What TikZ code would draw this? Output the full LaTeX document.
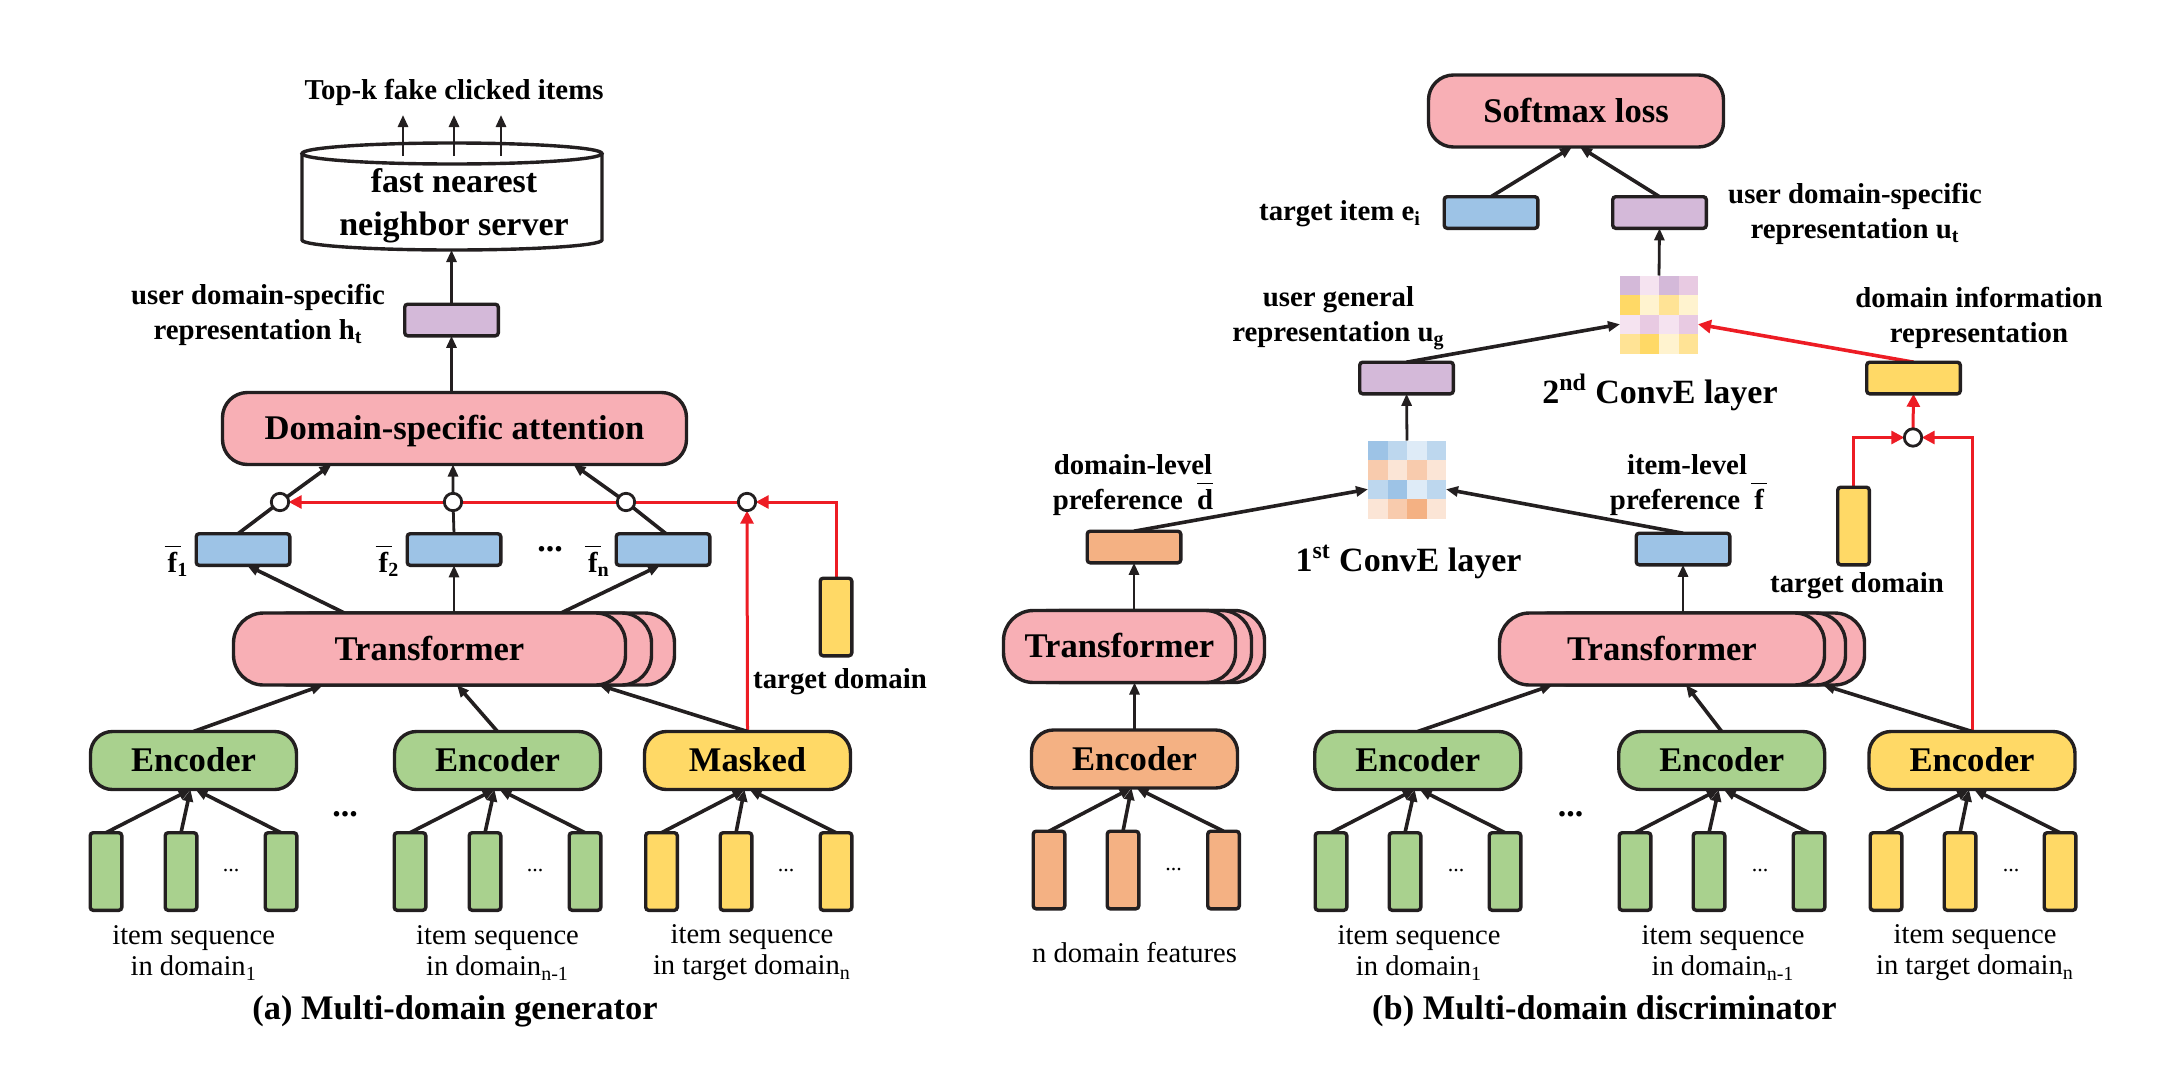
\documentclass[tikz,border=0pt]{standalone}
\usepackage{fontspec}
\setmainfont{Liberation Serif}
\usetikzlibrary{arrows.meta,calc,backgrounds}

\definecolor{pinkbox}{HTML}{F8AFB5}
\definecolor{greenbox}{HTML}{A9D18E}
\definecolor{yellowbox}{HTML}{FFD966}
\definecolor{orangebox}{HTML}{F4B183}
\definecolor{bluebox}{HTML}{9DC3E6}
\definecolor{purplebox}{HTML}{D4B9D9}
\definecolor{linered}{HTML}{ED1C24}
\definecolor{lineblack}{HTML}{231F20}
\definecolor{bluemid}{HTML}{BDD7EE}
\definecolor{bluepale}{HTML}{DEEBF7}
\definecolor{orangemid}{HTML}{F8CBAD}
\definecolor{orangepale}{HTML}{FBE5D6}
\definecolor{purplemid}{HTML}{E8CAE2}
\definecolor{purplepale}{HTML}{F5E3F0}
\definecolor{yellowmid}{HTML}{FFE395}
\definecolor{yellowpale}{HTML}{FFF3CF}

\newcommand{\barchar}[1]{\ooalign{#1\cr\hidewidth\raisebox{12.5pt}{\rule{8pt}{0.9pt}}\hidewidth\cr}}

\begin{document}
\begin{tikzpicture}[x=0.5pt,y=-0.5pt]
    \tikzstyle{every node}=[inner sep=0pt,outer sep=0pt]
    \tikzstyle{outlined}=[draw=lineblack,line width=1.7pt]
    \tikzstyle{barbox}=[outlined,rounded corners=1.5pt,minimum width=15.8pt,minimum height=38.8pt]
    \tikzstyle{vecbox}=[outlined,rounded corners=1.5pt,minimum width=46.8pt,minimum height=15.8pt]
    \tikzstyle{encbox}=[outlined,rounded corners=11pt,minimum width=103pt,minimum height=29pt,
        text height=11.2pt,text depth=0pt,font=\fontsize{17.3}{20}\selectfont\bfseries]
    \tikzstyle{pillbox}=[outlined,fill=pinkbox,rounded corners=15pt,minimum height=36pt,
        text height=11.2pt,text depth=0pt,font=\fontsize{17.3}{20}\selectfont\bfseries]
    \tikzstyle{mixdot}=[outlined,line width=1.4pt,fill=white,circle,minimum size=8.7pt]
    \tikzstyle{cellbox}=[minimum size=9.75pt]
    \tikzstyle{arrowline}=[draw=lineblack,line width=1.4pt,-{Triangle[length=6pt,width=5pt]}]
    \tikzstyle{thickarrow}=[arrowline,line width=1.8pt]
    \tikzstyle{redline}=[draw=linered,line width=1.5pt,-{Triangle[length=6.5pt,width=6.5pt]}]
    \tikzstyle{boldlabel}=[align=center,font=\fontsize{14.4}{17.5}\selectfont\bfseries]
    \tikzstyle{bigdots}=[font=\fontsize{17}{20}\selectfont\bfseries]
    \tikzstyle{seqlabel}=[align=center,font=\fontsize{14.3}{15.5}\selectfont]
    \tikzstyle{smalldots}=[font=\fontsize{11}{13}\selectfont]
    \tikzstyle{captionlabel}=[font=\fontsize{17.2}{20}\selectfont\bfseries]

    \useasboundingbox (0,0) rectangle (2166,1076);

    % (a) generator
    \node (topk) [boldlabel] at (454,92) {Top-k fake clicked items};
    \node (server) [minimum width=150pt,minimum height=53.5pt] at (452,196.5) {};
    \draw[outlined,fill=white] (server.west |- 0,154) -- (server.west |- 0,240)
        arc[start angle=180,end angle=360,x radius=75pt,y radius=5pt] -- (server.east |- 0,154);
    \draw[outlined,fill=white] (server.north |- 0,153.5) ellipse[x radius=75pt,y radius=5.25pt];
    \node (serverlabel) [align=center,font=\fontsize{17}{21.5}\selectfont\bfseries] at (454,206) {fast nearest\\neighbor server};
    \node (hvec) [vecbox,fill=purplebox] at (451.5,320) {};
    \node (hlabel) [boldlabel] at (258,315) {user domain-specific\\representation h\textsubscript{t}};
    \node (attn) [pillbox,minimum width=232pt,rounded corners=12.5pt] at (454.5,428.5) {Domain-specific attention};

    \node (mixA1) [mixdot] at (280,502) {};
    \node (mixA2) [mixdot] at (453,502) {};
    \node (mixA3) [mixdot] at (626,502) {};
    \node (mixA4) [mixdot] at (747,502) {};
    \node (fvecA1) [vecbox,fill=bluebox] at (243,549.5) {};
    \node (fvecA2) [vecbox,fill=bluebox] at (454,549.5) {};
    \node (fvecA3) [vecbox,fill=bluebox] at (663,549.5) {};
    \node (flabA1) [boldlabel] at (178,564.5) {\barchar{f}\textsubscript{1}};
    \node (flabA2) [boldlabel] at (389,564.5) {\barchar{f}\textsubscript{2}};
    \node (flabA3) [boldlabel] at (599,564.5) {\barchar{f}\textsubscript{n}};
    \node (dotsA0) [bigdots] at (550,549) {...};
    \node (tdomA) [barbox,fill=yellowbox] at (836,617) {};
    \node (tlabA) [boldlabel] at (840,682) {target domain};

    \node (transA3) [pillbox,minimum width=196pt] at (478.5,649) {};
    \node (transA2) [pillbox,minimum width=196pt] at (455.5,649) {};
    \node (transA1) [pillbox,minimum width=196pt] at (429.5,649) {Transformer};

    \node (encA1) [encbox,fill=greenbox] at (193.5,760.5) {Encoder};
    \node (encA2) [encbox,fill=greenbox] at (497.5,760.5) {Encoder};
    \node (encA3) [encbox,fill=yellowbox] at (747.5,760.5) {Masked};
    \node (dotsA1) [bigdots] at (345,814) {...};

    \foreach \name/\xpos/\hue in {A11/106/greenbox,A12/181/greenbox,A13/281/greenbox,
        A21/410/greenbox,A22/485/greenbox,A23/585/greenbox,
        A31/661.5/yellowbox,A32/736/yellowbox,A33/836/yellowbox}
        \node (bar\name) [barbox,fill=\hue] at (\xpos,871.5) {};
    \node (dotsA2) [smalldots] at (231,870) {...};
    \node (dotsA3) [smalldots] at (535,870) {...};
    \node (dotsA4) [smalldots] at (786,870) {...};

    \node (seqA1) [seqlabel] at (193.7,953) {item sequence\\in domain\textsubscript{1}};
    \node (seqA2) [seqlabel] at (497.5,953) {item sequence\\in domain\textsubscript{n-1}};
    \node (seqA3) [seqlabel] at (752,953) {item sequence\\in target domain\textsubscript{n}};
    \node (capA) [captionlabel] at (455,1011) {(a) Multi-domain generator};

    % (b) discriminator
    \node (softmax) [pillbox,minimum width=147.5pt,rounded corners=12.5pt] at (1576,111) {Softmax loss};
    \node (evec) [vecbox,fill=bluebox] at (1491,212.5) {};
    \node (utvec) [vecbox,fill=purplebox] at (1659.5,212.5) {};
    \node (elabel) [boldlabel] at (1340,214) {target item e\textsubscript{i}};
    \node (utlabel) [boldlabel] at (1855,214) {user domain-specific\\representation u\textsubscript{t}};

    \foreach \rowid/\cols in {1/{purplebox,purplepale,purplebox,purplemid},
        2/{yellowbox,yellowpale,yellowmid,yellowpale},
        3/{purplepale,purplemid,purplepale,purplemid},
        4/{yellowmid,yellowbox,yellowpale,yellowmid}}
        \foreach \hue [count=\colid] in \cols
            \node (convB-\rowid-\colid) [cellbox,fill=\hue] at ({1620+19.5*(\colid-0.5)},{275.5+19.5*(\rowid-0.5)}) {};
    \foreach \rowid/\cols in {1/{bluebox,bluemid,bluepale,bluemid},
        2/{orangemid,orangepale,orangemid,orangepale},
        3/{bluemid,bluebox,bluepale,bluemid},
        4/{orangepale,orangemid,orangebox,orangepale}}
        \foreach \hue [count=\colid] in \cols
            \node (convA-\rowid-\colid) [cellbox,fill=\hue] at ({1368+19.5*(\colid-0.5)},{440.5+19.5*(\rowid-0.5)}) {};

    \node (ugvec) [vecbox,fill=purplebox] at (1406.5,378) {};
    \node (dvec) [vecbox,fill=yellowbox] at (1913.5,378) {};
    \node (uglabel) [boldlabel] at (1338.5,318) {user general\\representation u\textsubscript{g}};
    \node (dlabel) [boldlabel] at (1979,318) {domain information\\representation};
    \node (convBlabel) [bigdots] at (1660,392.5) {2\textsuperscript{nd} ConvE layer};
    \node (convAlabel) [bigdots] at (1408.5,562) {1\textsuperscript{st} ConvE layer};
    \node (mixB) [mixdot] at (1913,437.5) {};
    \node (tdomB) [barbox,fill=yellowbox] at (1853.5,526) {};
    \node (tlabB) [boldlabel] at (1857,586) {target domain};
    \node (dlevel) [boldlabel] at (1133,485) {domain-level\\preference\ \ \barchar{d}};
    \node (ilevel) [boldlabel] at (1687,485) {item-level\\preference\ \ \barchar{f}};
    \node (dbar) [vecbox,fill=orangebox] at (1134,547) {};
    \node (fbar) [vecbox,fill=bluebox] at (1683,549) {};

    \node (transB3) [pillbox,minimum width=116pt] at (1148.5,646.5) {};
    \node (transB2) [pillbox,minimum width=116pt] at (1135.5,646.5) {};
    \node (transB1) [pillbox,minimum width=116pt] at (1119.5,646.5) {Transformer};
    \node (transC3) [pillbox,minimum width=162.5pt] at (1702,649) {};
    \node (transC2) [pillbox,minimum width=162.5pt] at (1683,649) {};
    \node (transC1) [pillbox,minimum width=162.5pt] at (1662,649) {Transformer};

    \node (encB0) [encbox,fill=orangebox] at (1134.5,759) {Encoder};
    \node (encB1) [encbox,fill=greenbox] at (1417.7,760.5) {Encoder};
    \node (encB2) [encbox,fill=greenbox] at (1721.7,760.5) {Encoder};
    \node (encB3) [encbox,fill=yellowbox] at (1972,760.5) {Encoder};
    \node (dotsB1) [bigdots] at (1570.6,814) {...};

    \foreach \name/\xpos/\hue in {B11/1331/greenbox,B12/1405/greenbox,B13/1505/greenbox,
        B21/1635/greenbox,B22/1709/greenbox,B23/1809/greenbox,
        B31/1886/yellowbox,B32/1960/yellowbox,B33/2060/yellowbox}
        \node (bar\name) [barbox,fill=\hue] at (\xpos,871.5) {};
    \foreach \name/\xpos in {B01/1049,B02/1123,B03/1223.5}
        \node (bar\name) [barbox,fill=orangebox] at (\xpos,870) {};
    \node (dotsB0) [smalldots] at (1173.5,869) {...};
    \node (dotsB2) [smalldots] at (1456,870) {...};
    \node (dotsB3) [smalldots] at (1760,870) {...};
    \node (dotsB4) [smalldots] at (2011,870) {...};

    \node (seqB0) [seqlabel] at (1134.5,953) {n domain features};
    \node (seqB1) [seqlabel] at (1419,953) {item sequence\\in domain\textsubscript{1}};
    \node (seqB2) [seqlabel] at (1723,953) {item sequence\\in domain\textsubscript{n-1}};
    \node (seqB3) [seqlabel] at (1975,953) {item sequence\\in target domain\textsubscript{n}};
    \node (capB) [captionlabel] at (1604.4,1011) {(b) Multi-domain discriminator};

    % outgoing arrows start inside the top of the server
    \foreach \i/\xpos in {1/403,2/454,3/501} {
        \coordinate (outS\i) at (\xpos,156);
        \coordinate (outE\i) at (\xpos,115);
        \draw[arrowline] (outS\i) -- (outE\i);
    }

    \begin{pgfonlayer}{background}
        \draw[arrowline] (hvec.north) -- (hvec.north |- server.south);
        \draw[arrowline] (hvec.north |- attn.north) -- (hvec.south);
        \draw[thickarrow] ($(fvecA1.north)+(-5,0)$) -- (mixA1.center) -- ($(attn.south)+(-123,0)$);
        \draw[arrowline] (fvecA2.north) -- (mixA2.center) -- (mixA2.center |- attn.south);
        \draw[thickarrow] ($(fvecA3.north)+(3,0)$) -- (mixA3.center) -- ($(attn.south)+(119,0)$);
        \draw[redline] (mixA4.center) -- (mixA1.east);
        \draw[redline] (tdomA.north) |- (mixA4.east);
        \draw[redline] (encA3.north) -- (mixA4.south);
        \draw[thickarrow] ($(transA1.north)+(-85,0)$) -- ($(fvecA1.south)+(4,0)$);
        \draw[arrowline] (transA1.north -| fvecA2.south) -- (fvecA2.south);
        \draw[thickarrow] ($(transA1.north)+(131.5,0)$) -- ($(fvecA3.south)+(-3,0)$);
        \draw[thickarrow] (encA1.north) -- ($(transA1.south)+(-106.5,0)$);
        \draw[thickarrow] (encA2.north) -- ($(transA1.south)+(27.5,0)$);
        \draw[thickarrow] (encA3.north) -- ($(transA1.south)+(169.5,0)$);
        \foreach \e in {A1,A2,A3,B0,B1,B2,B3} {
            \draw[thickarrow] (bar\e1.north) -- ($(enc\e.south)+(-3,0)$);
            \draw[thickarrow] (bar\e2.north) -- ($(enc\e.south)+(-3,0)$);
            \draw[thickarrow] (bar\e3.north) -- ($(enc\e.south)+(2,0)$);
        }

        \draw[thickarrow] (evec.north) -- ($(softmax.south)+(-4,0)$);
        \draw[thickarrow] (utvec.north) -- ($(softmax.south)+(4,0)$);
        \draw[arrowline] (convB-1-2.north east) -- (utvec.south);
        \draw[thickarrow] (ugvec.north) -- (convB-3-1.west);
        \draw[redline,line width=1.8pt] (dvec.north) -- (convB-3-4.east);
        \draw[arrowline] (convA-1-2.north east) -- (ugvec.south);
        \draw[thickarrow] (dbar.north) -- (convA-3-1.west);
        \draw[thickarrow] (fbar.north) -- (convA-3-4.east);
        \draw[redline] (mixB.north) -- (dvec.south);
        \draw[redline] (tdomB.north) |- (mixB.west);
        \draw[redline] (encB3.north) |- (mixB.east);
        \draw[arrowline] (transB1.north -| dbar.south) -- (dbar.south);
        \draw[arrowline] (encB0.north) -- (transB1.south -| encB0.north);
        \draw[arrowline] (transC1.north -| fbar.south) -- (fbar.south);
        \draw[thickarrow] (encB1.north) -- ($(transC1.south)+(-109.5,0)$);
        \draw[thickarrow] (encB2.north) -- ($(transC1.south)+(24,0)$);
        \draw[thickarrow] (encB3.north) -- ($(transC1.south)+(161,0)$);
    \end{pgfonlayer}
\end{tikzpicture}
\end{document}
